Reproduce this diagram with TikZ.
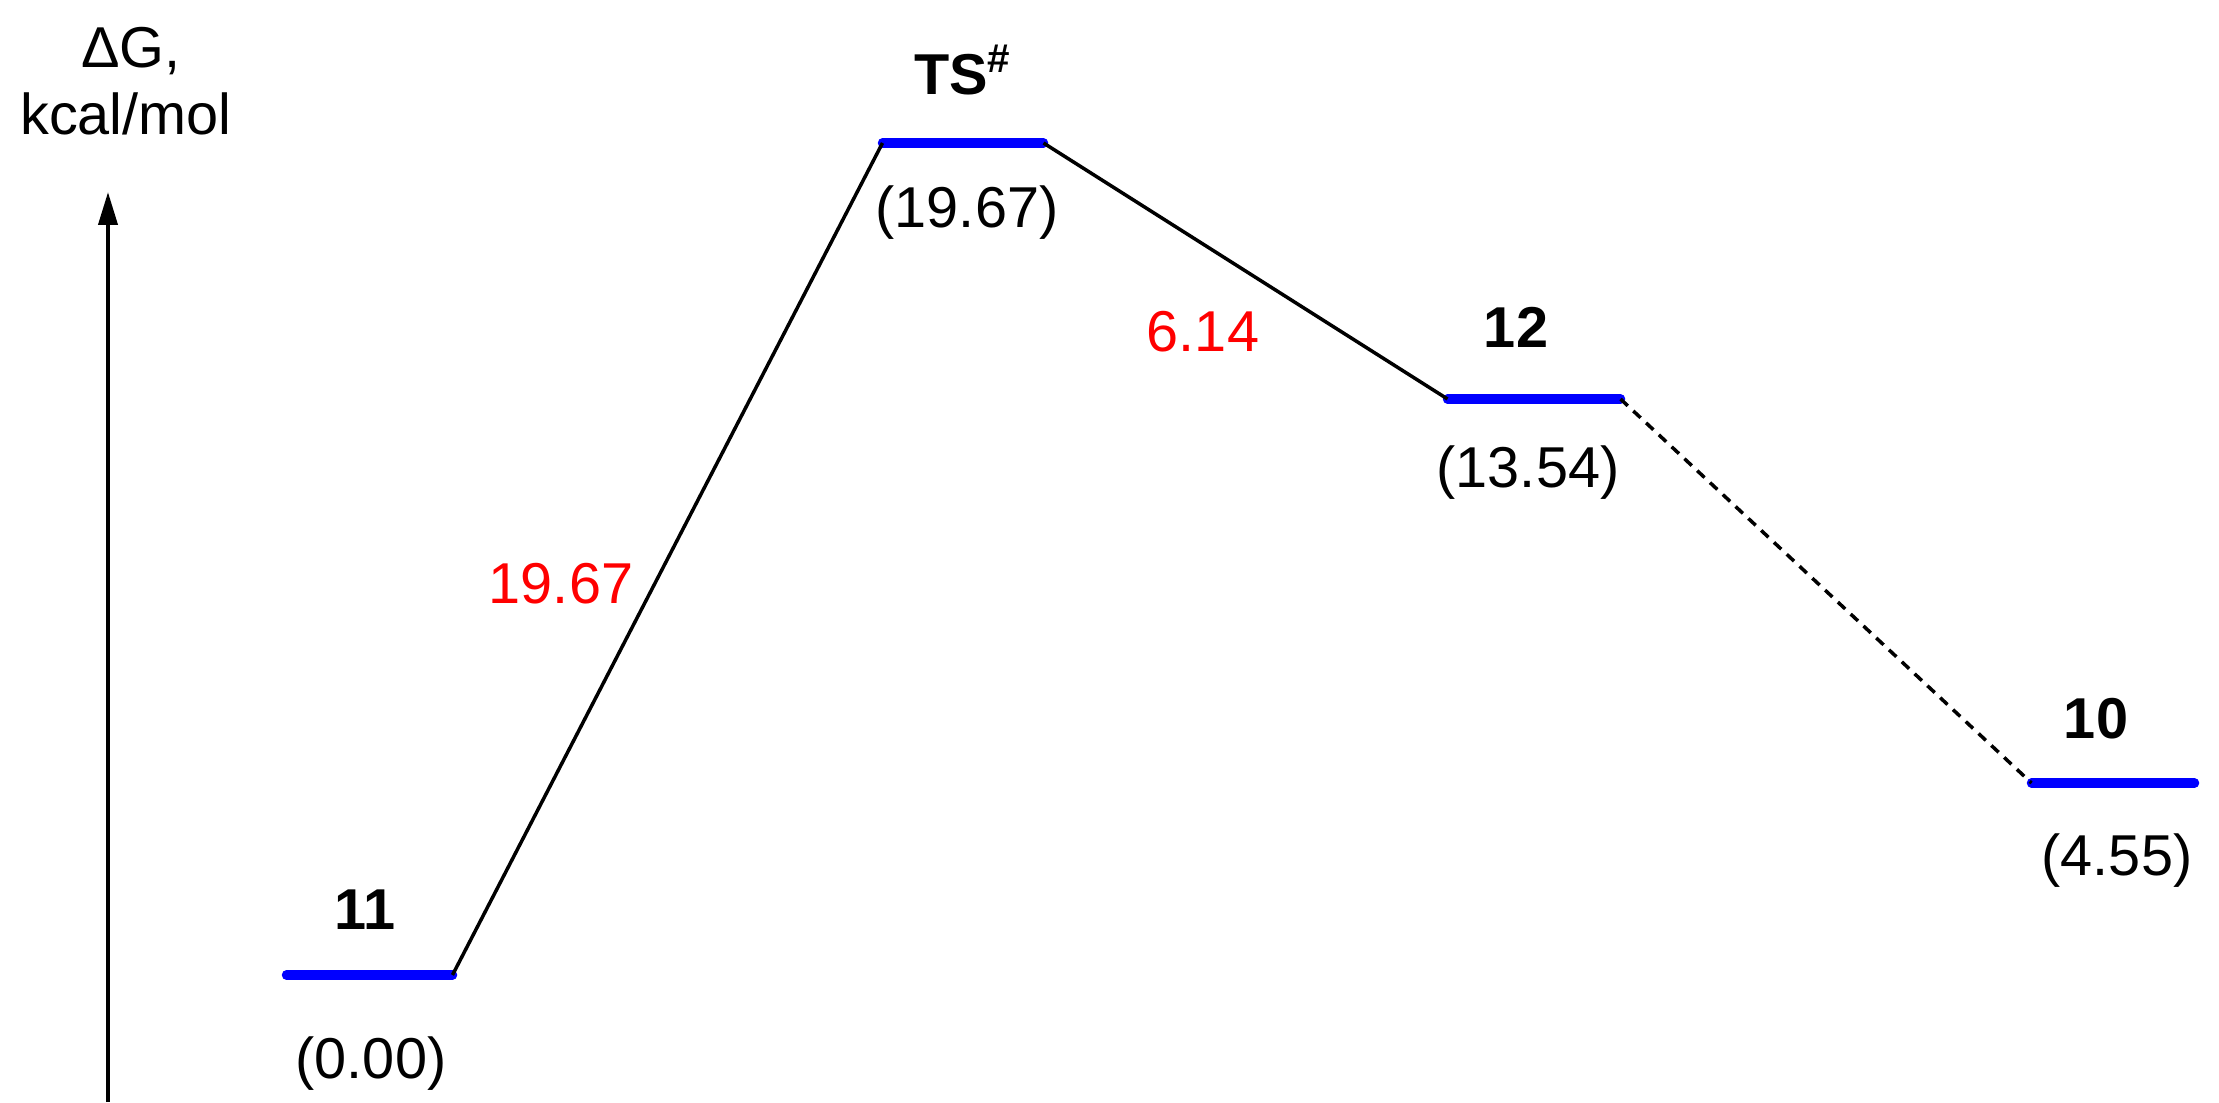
\documentclass[tikz,border=0pt]{standalone}
\usepackage{fontspec}
\setmainfont{Liberation Sans}
\usetikzlibrary{arrows.meta}
\definecolor{lvlblue}{RGB}{0,0,255}
\definecolor{valred}{RGB}{255,0,0}
\begin{document}
\begin{tikzpicture}[
  every node/.style={inner sep=0pt, outer sep=0pt, font=\fontsize{16.4}{19.4}\selectfont},
  lvlline/.style={draw=lvlblue, line width=0.095cm, line cap=round},
  conn/.style={draw=black, line width=0.035cm},
  dconn/.style={draw=black, line width=0.035cm, dash pattern=on 0.1cm off 0.075cm},
  lvlname/.style={anchor=base, font=\fontsize{16.4}{19.4}\selectfont\bfseries},
  energyval/.style={anchor=base},
  barrierval/.style={anchor=base, text=valred},
  axislabel/.style={anchor=base},
  yaxisarrow/.style={draw=black, line width=0.04cm, -{Triangle[length=0.33cm, width=0.19cm]}}
]
\useasboundingbox (0,0) rectangle (22.19,11.02);

% level end points
\coordinate (l11a) at (2.865,1.27);  \coordinate (l11b) at (4.525,1.27);
\coordinate (tsa)  at (8.825,9.59);  \coordinate (tsb)  at (10.435,9.59);
\coordinate (l12a) at (14.475,7.03); \coordinate (l12b) at (16.205,7.03);
\coordinate (l10a) at (20.315,3.19); \coordinate (l10b) at (21.945,3.19);

% axis
\coordinate (axbot) at (1.08,0);
\coordinate (axtop) at (1.08,9.10);
\draw[yaxisarrow] (axbot) -- (axtop);
\node[axislabel] (axlab1) at (1.31,10.34) {ΔG,};
\node[axislabel] (axlab2) at (1.26,9.67) {kcal/mol};

% levels
\draw[lvlline] (l11a) -- (l11b);
\draw[lvlline] (tsa) -- (tsb);
\draw[lvlline] (l12a) -- (l12b);
\draw[lvlline] (l10a) -- (l10b);

% connectors
\draw[conn] (l11b) -- (tsa);
\draw[conn] (tsb) -- (l12a);
\draw[dconn] (l12b) -- (l10a);

% labels
\node[lvlname] (n11) at (3.65,1.73) {11};
\node[energyval] (e11) at (3.71,0.24) {(0.00)};
\node[lvlname] (nts) at (9.63,10.07) {TS\textsuperscript{\#}};
\node[energyval] (ets) at (9.67,8.74) {(19.67)};
\node[lvlname] (n12) at (15.16,7.54) {12};
\node[energyval] (e12) at (15.28,6.14) {(13.54)};
\node[lvlname] (n10) at (20.96,3.64) {10};
\node[energyval] (e10) at (21.17,2.27) {(4.55)};

\node[barrierval] (b1) at (5.61,4.98) {19.67};
\node[barrierval] (b2) at (12.03,7.50) {6.14};
\end{tikzpicture}
\end{document}
